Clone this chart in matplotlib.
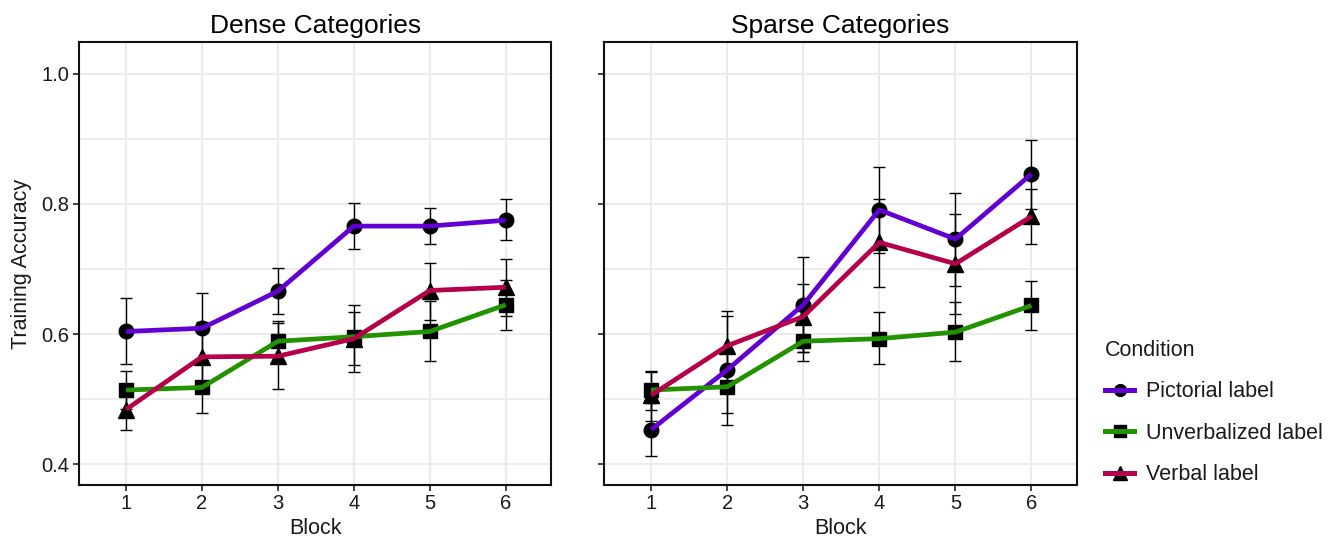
import matplotlib
matplotlib.use("Agg")
import matplotlib.pyplot as plt
from matplotlib.lines import Line2D
from matplotlib.legend_handler import HandlerTuple
import numpy as np

plt.rcParams['font.family'] = ['Liberation Sans', 'DejaVu Sans']

blocks = [1, 2, 3, 4, 5, 6]
conditions = ["Pictorial label", "Unverbalized label", "Verbal label"]
colors = {"Pictorial label": "#6200D4", "Unverbalized label": "#239200", "Verbal label": "#B5004A"}
markers = {"Pictorial label": "o", "Unverbalized label": "s", "Verbal label": "^"}

# Dense categories: mean, lower, upper
dense_pict = [0.604, 0.609, 0.666, 0.766, 0.766, 0.775]
dense_pict_lo = [0.554, 0.555, 0.631, 0.731, 0.738, 0.744]
dense_pict_hi = [0.655, 0.663, 0.701, 0.802, 0.794, 0.808]

dense_unv = [0.514, 0.518, 0.589, 0.596, 0.604, 0.645]
dense_unv_lo = [0.485, 0.478, 0.560, 0.552, 0.558, 0.606]
dense_unv_hi = [0.544, 0.560, 0.620, 0.634, 0.651, 0.683]

dense_verb = [0.484, 0.565, 0.566, 0.593, 0.667, 0.672]
dense_verb_lo = [0.452, 0.510, 0.515, 0.542, 0.621, 0.628]
dense_verb_hi = [0.516, 0.619, 0.617, 0.645, 0.710, 0.715]

# Sparse categories
sparse_pict = [0.453, 0.545, 0.645, 0.791, 0.746, 0.846]
sparse_pict_lo = [0.412, 0.478, 0.572, 0.725, 0.674, 0.792]
sparse_pict_hi = [0.494, 0.628, 0.718, 0.857, 0.817, 0.898]

sparse_unv = [0.514, 0.519, 0.589, 0.593, 0.603, 0.644]
sparse_unv_lo = [0.484, 0.461, 0.558, 0.554, 0.559, 0.606]
sparse_unv_hi = [0.544, 0.577, 0.620, 0.634, 0.650, 0.682]

sparse_verb = [0.506, 0.582, 0.627, 0.741, 0.708, 0.781]
sparse_verb_lo = [0.466, 0.528, 0.573, 0.673, 0.631, 0.738]
sparse_verb_hi = [0.541, 0.636, 0.677, 0.808, 0.784, 0.823]

panels = [
    ("Dense Categories", {
        "Pictorial label": (dense_pict, dense_pict_lo, dense_pict_hi),
        "Unverbalized label": (dense_unv, dense_unv_lo, dense_unv_hi),
        "Verbal label": (dense_verb, dense_verb_lo, dense_verb_hi),
    }),
    ("Sparse Categories", {
        "Pictorial label": (sparse_pict, sparse_pict_lo, sparse_pict_hi),
        "Unverbalized label": (sparse_unv, sparse_unv_lo, sparse_unv_hi),
        "Verbal label": (sparse_verb, sparse_verb_lo, sparse_verb_hi),
    }),
]

fig = plt.figure(figsize=(13.38, 5.37), dpi=100)
ax_rects = [[0.059, 0.0968, 0.353, 0.825], [0.4514, 0.0968, 0.3536, 0.825]]
grid_col = "#EBEBEB"

for i, (title, data) in enumerate(panels):
    ax = fig.add_axes(ax_rects[i])
    ax.set_xlim(0.38, 6.6)
    ax.set_ylim(0.368, 1.049)
    ax.set_yticks([0.4, 0.6, 0.8, 1.0])
    ax.set_yticks([0.5, 0.7, 0.9], minor=True)
    ax.set_xticks(blocks)
    ax.grid(True, which="major", color=grid_col, linewidth=1.5, zorder=0)
    ax.grid(True, which="minor", axis="y", color=grid_col, linewidth=1.3, zorder=0)
    ax.set_axisbelow(True)
    ax.tick_params(axis="y", which="minor", length=0)
    ax.tick_params(which="major", length=4.2, width=1.2, color="#222222", labelsize=14.5,
                   labelcolor="#1a1a1a", pad=2.5)
    for s in ax.spines.values():
        s.set_linewidth(1.5)
        s.set_color("#111111")
    for cond in conditions:
        m, lo, hi = data[cond]
        m = np.array(m); lo = np.array(lo); hi = np.array(hi)
        ax.errorbar(blocks, m, yerr=[m - lo, hi - m], fmt="none", ecolor="black",
                    elinewidth=1.0, capsize=4.3, capthick=1.0, zorder=2)
        ax.plot(blocks, m, linestyle="none", marker=markers[cond], color="black",
                markersize=10.5 if markers[cond] != "^" else 11.5, zorder=3)
        ax.plot(blocks, m, color=colors[cond], linewidth=3.4, zorder=4,
                solid_capstyle="butt", solid_joinstyle="round")
    ax.set_title(title, fontsize=19, pad=6.5, color="black")
    ax.set_xlabel("Block", fontsize=15.5, labelpad=3.5, color="#1a1a1a")
    if i == 0:
        ax.set_yticklabels(["0.4", "0.6", "0.8", "1.0"])
        ax.set_ylabel("Training Accuracy", fontsize=15.5, labelpad=7, color="#1a1a1a")
    else:
        ax.set_yticklabels([])

handles = []
for cond in conditions:
    mk = Line2D([], [], linestyle="none", marker=markers[cond], color="black",
                markersize=8.5 if markers[cond] != "^" else 9.5)
    ln = Line2D([], [], color=colors[cond], linewidth=3.6)
    handles.append((mk, ln))
leg = fig.legend(handles, conditions, handler_map={tuple: HandlerTuple(ndivide=1, pad=0)},
                 loc="upper left", bbox_to_anchor=(0.8195, 0.383), frameon=False,
                 title="Condition", fontsize=15.5, title_fontsize=15.5,
                 handlelength=1.35, labelspacing=0.95, alignment="left",
                 handletextpad=0.55, borderaxespad=0)
for t in leg.get_texts():
    t.set_color("#1a1a1a")
leg.get_title().set_color("#1a1a1a")
plt.savefig("out.png", dpi=100)
